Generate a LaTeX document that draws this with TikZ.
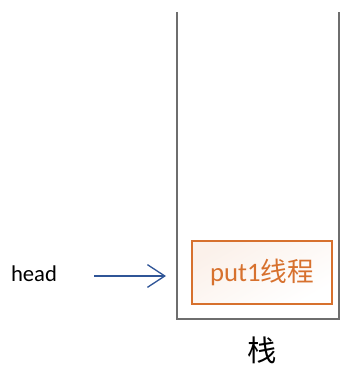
\documentclass[tikz,border=0pt]{standalone}
\usepackage{fontspec}
\setmainfont{Carlito}
\newfontfamily\cjk{Noto Sans CJK SC}
\usetikzlibrary{arrows.meta}
\definecolor{threadorange}{HTML}{D7712E}
\definecolor{arrowblue}{HTML}{2F5597}
\definecolor{wallgray}{HTML}{6E6E6E}
\tikzset{
  wall/.style={wallgray, line width=2.2pt},
  threadbox/.style={draw=threadorange, line width=1.1pt, shading=axis,
    top color=threadorange!10, bottom color=white, shading angle=30,
    minimum width=105pt, minimum height=47pt, inner sep=0pt,
    text=threadorange, font=\fontsize{20}{22}\selectfont},
}
\begin{document}
  \begin{tikzpicture}[x=0.75pt,y=-0.75pt]
    \useasboundingbox (0,0) rectangle (341,367);
    \draw[wall] (177,12) -- (177,319) -- (339,319) -- (339,12);
    \node[threadbox] (put1) at (262,272.5) {put1{\cjk 线程}};
    \node[font=\fontsize{22}{24}\selectfont\cjk, inner sep=0pt] (stack) at (262,350) {栈};
    \node[font=\fontsize{17}{19}\selectfont] (head) at (34,274) {head};
    \coordinate (tail) at (94,276);
    \coordinate (tip) at (166,276);
    \draw[-{Straight Barb[length=13pt,width=17pt]},arrowblue,line width=1pt]
      (tail) -- (tip);
  \end{tikzpicture}
\end{document}
